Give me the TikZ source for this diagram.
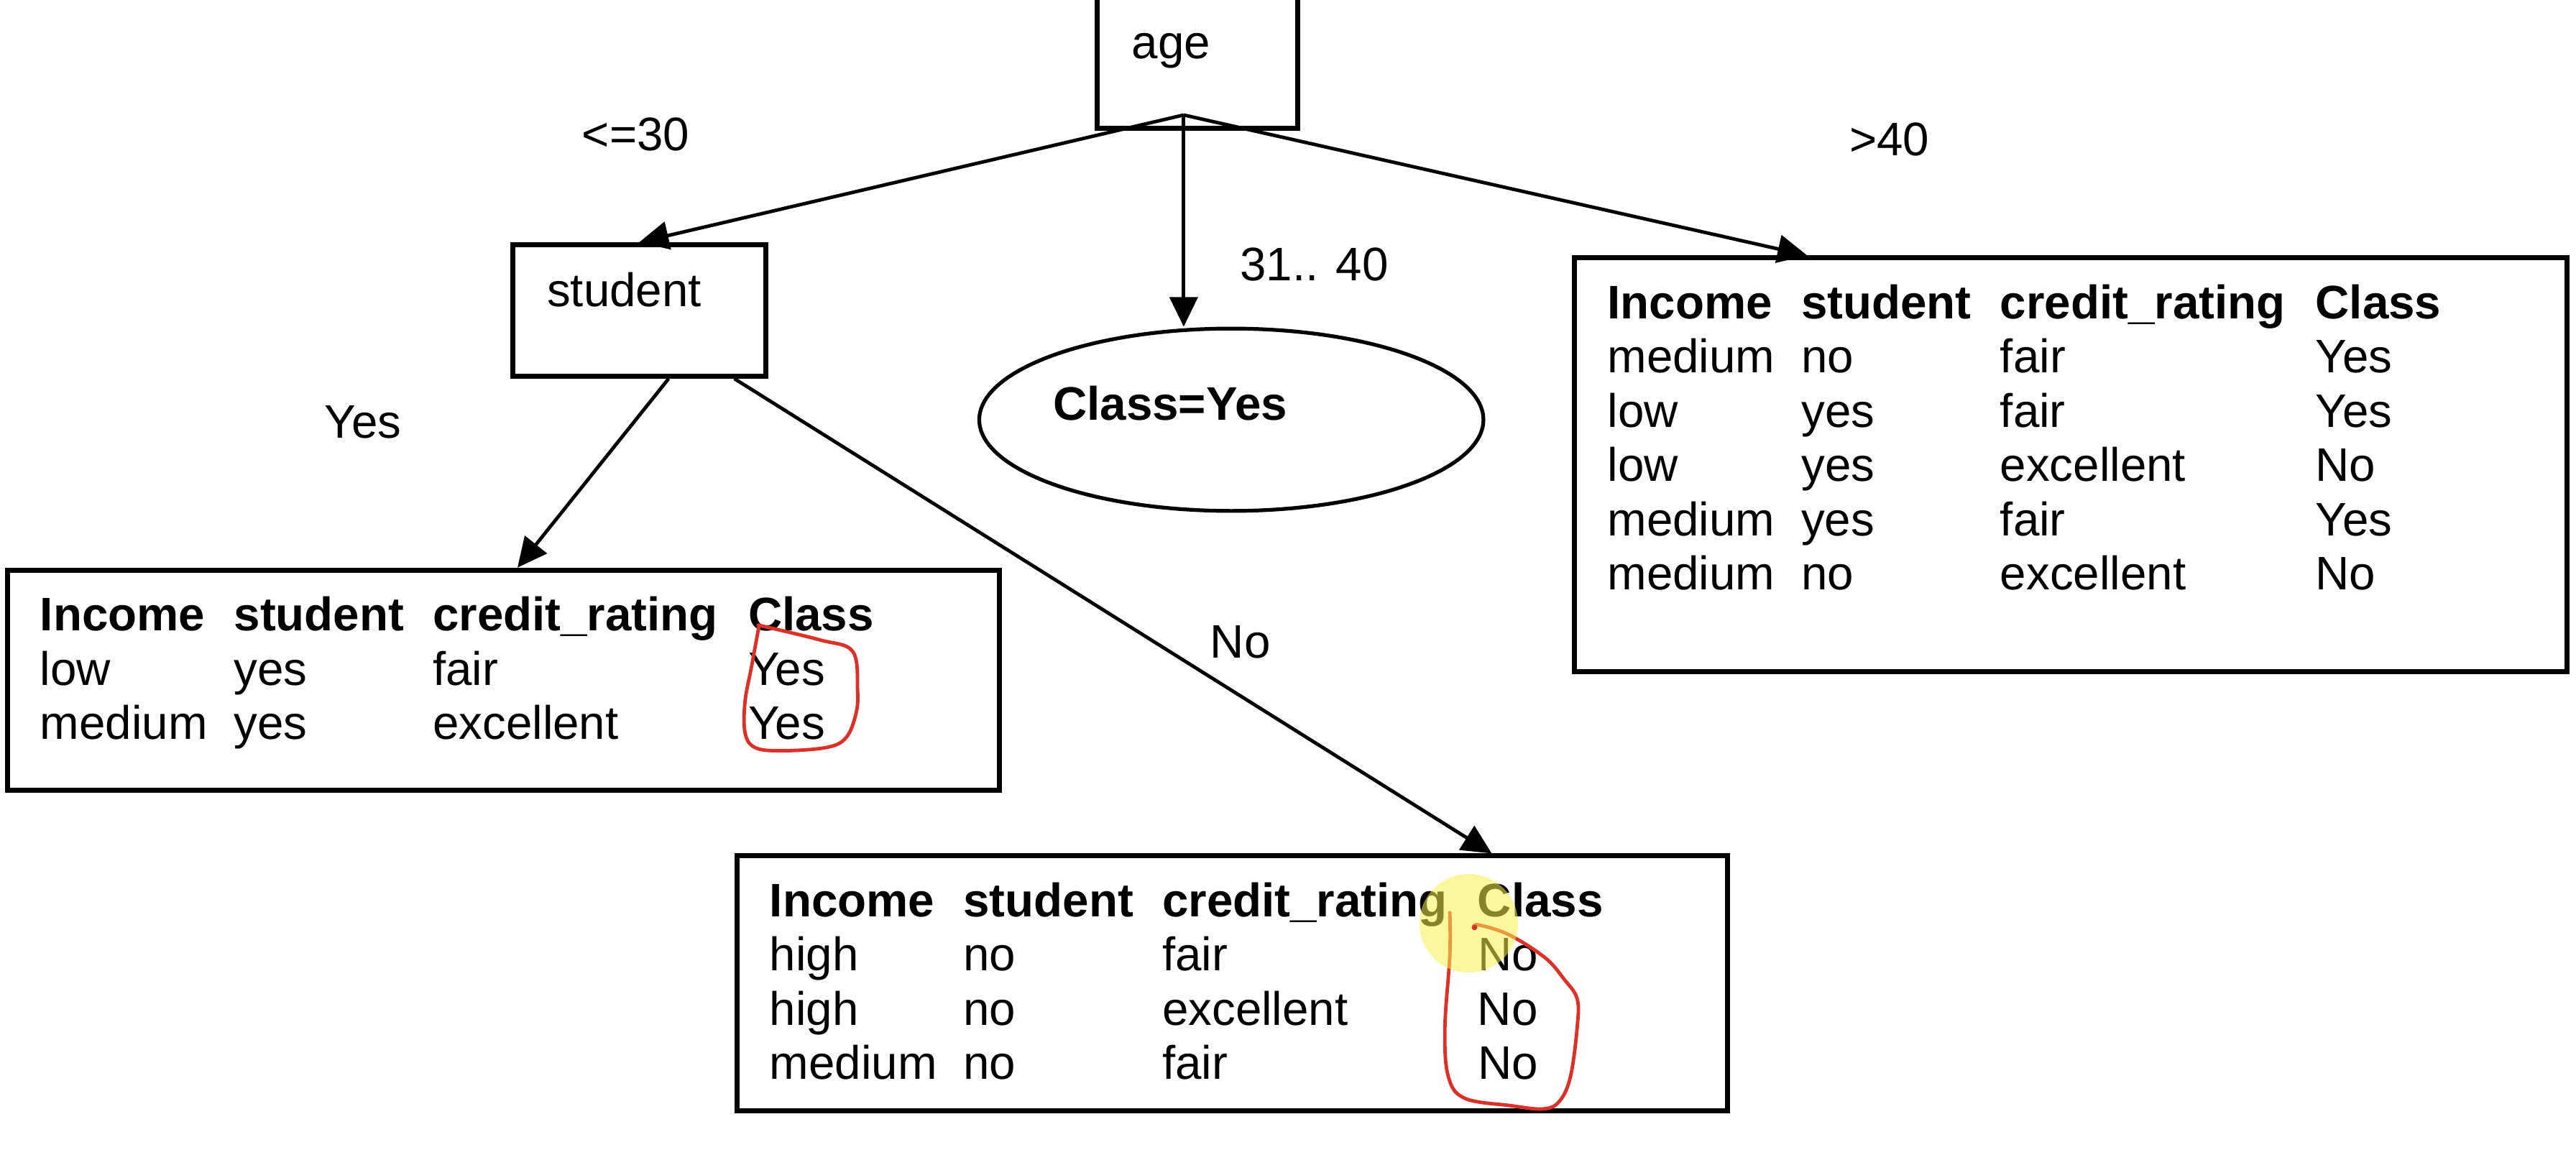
\documentclass[tikz,border=0pt]{standalone}
\usepackage{fontspec}
\setmainfont{Liberation Sans}
\usepackage{tikz}
\usetikzlibrary{positioning, calc, arrows.meta, shapes.geometric}
\tikzset{>={Triangle[length=0.36cm, width=0.34cm]}}
\definecolor{penred}{RGB}{222,48,38}
\definecolor{marker}{RGB}{246,240,80}

\newcommand{\headrow}{\textbf{Income} & \textbf{student} & \textbf{credit\_rating} & \textbf{Class}\\}

\begin{document}
\begin{tikzpicture}
    [font=\fontsize{16.3pt}{18.8pt}\selectfont,
      attr/.style={draw, line width=1.7pt, inner xsep=0.42cm, align=left,
        minimum height=1.6cm, text height=0.45cm, text depth=0.54cm},
      datatab/.style={draw, line width=1.7pt, anchor=north west, align=left,
        inner xsep=0.4cm, inner ysep=0pt, text width=11.28cm, text height=0.74cm},
      branch/.style={->, line width=1.2pt},
      pen/.style={penred, line width=1.2pt, line cap=round}]

    \useasboundingbox (0,0) rectangle (31.36,-14.06);

    % tree nodes
    \node[attr, text width=1.6cm] (age) at (14.58,-0.76) {age};
    \coordinate (fork) at (14.41,-1.40);

    \node[attr, text width=2.24cm] (student) at (7.78,-3.78) {student};

    \node[ellipse, draw, line width=1.3pt, inner sep=0pt, minimum width=6.1cm,
      minimum height=2.22cm, text width=4.34cm, align=left,
      text height=0.45cm, text depth=0.45cm] (leaf) at (14.99,-5.11) {\textbf{Class=Yes}};

    % partitions
    \node[datatab, text depth=4.30cm] (rtab) at (19.14,-3.11) {%
      \begin{tabular}[t]{@{}p{2.36cm}@{}p{2.42cm}@{}p{3.84cm}@{}l@{}}
        \headrow
        medium & no & fair & Yes\\
        low & yes & fair & Yes\\
        low & yes & excellent & No\\
        medium & yes & fair & Yes\\
        medium & no & excellent & No
      \end{tabular}};

    \node[datatab, text depth=1.94cm] (ltab) at (0.06,-6.91) {%
      \begin{tabular}[t]{@{}p{2.36cm}@{}p{2.42cm}@{}p{3.84cm}@{}l@{}}
        \headrow
        low & yes & fair & Yes\\
        medium & yes & excellent & Yes
      \end{tabular}};

    \node[datatab, text width=11.26cm, text depth=2.36cm] (btab) at (8.94,-10.39) {%
      \begin{tabular}[t]{@{}p{2.36cm}@{}p{2.42cm}@{}p{3.84cm}@{}l@{}}
        \headrow
        high & no & fair & No\\
        high & no & excellent & No\\
        medium & no & fair & No
      \end{tabular}};

    % branch labels
    \node (le30) at (7.74,-1.64) {<=30};
    \node (mid) at (16.0,-3.22) {31.. 40};
    \node (gt40) at (23.0,-1.70) {>40};
    \node (yes) at (4.42,-5.14) {Yes};
    \node (no) at (15.1,-7.82) {No};

    \draw[branch] (fork) -- (student.north);
    \draw[branch] (fork) -- (fork |- leaf.north);
    \draw[branch] (fork) -- ($(rtab.north west)+(2.86,0)$);
    \draw[branch] ($(student.south)+(0.36,0)$) -- ($(ltab.north west)+(6.24,0)$);
    \draw[branch] ($(student.south)+(1.16,0)$) -- ($(btab.north west)+(9.22,0)$);

    % hand marks
    \draw[pen] plot[smooth, tension=0.6] coordinates {(9.23,-7.61) (9.98,-7.79)
      (10.38,-7.93) (10.44,-8.40) (10.42,-8.69) (10.30,-8.98) (10.06,-9.10)
      (9.51,-9.14) (9.19,-9.10) (9.07,-8.92) (9.07,-8.54) (9.15,-8.11) (9.24,-7.62)};
    \draw[pen] plot[smooth, tension=0.6] coordinates {(17.65,-11.11) (17.65,-11.63)
      (17.59,-12.51) (17.63,-13.10) (17.83,-13.37) (18.39,-13.46) (18.79,-13.50)
      (18.99,-13.40) (19.12,-13.10) (19.20,-12.51) (19.20,-12.16) (19.04,-11.92)
      (18.81,-11.66) (18.37,-11.38) (18.00,-11.26) (17.95,-11.29)};
    \fill[marker, opacity=0.55] (17.88,-11.24) circle (0.6);
    \fill[penred] (17.95,-11.29) circle (0.035);
  \end{tikzpicture}
\end{document}
